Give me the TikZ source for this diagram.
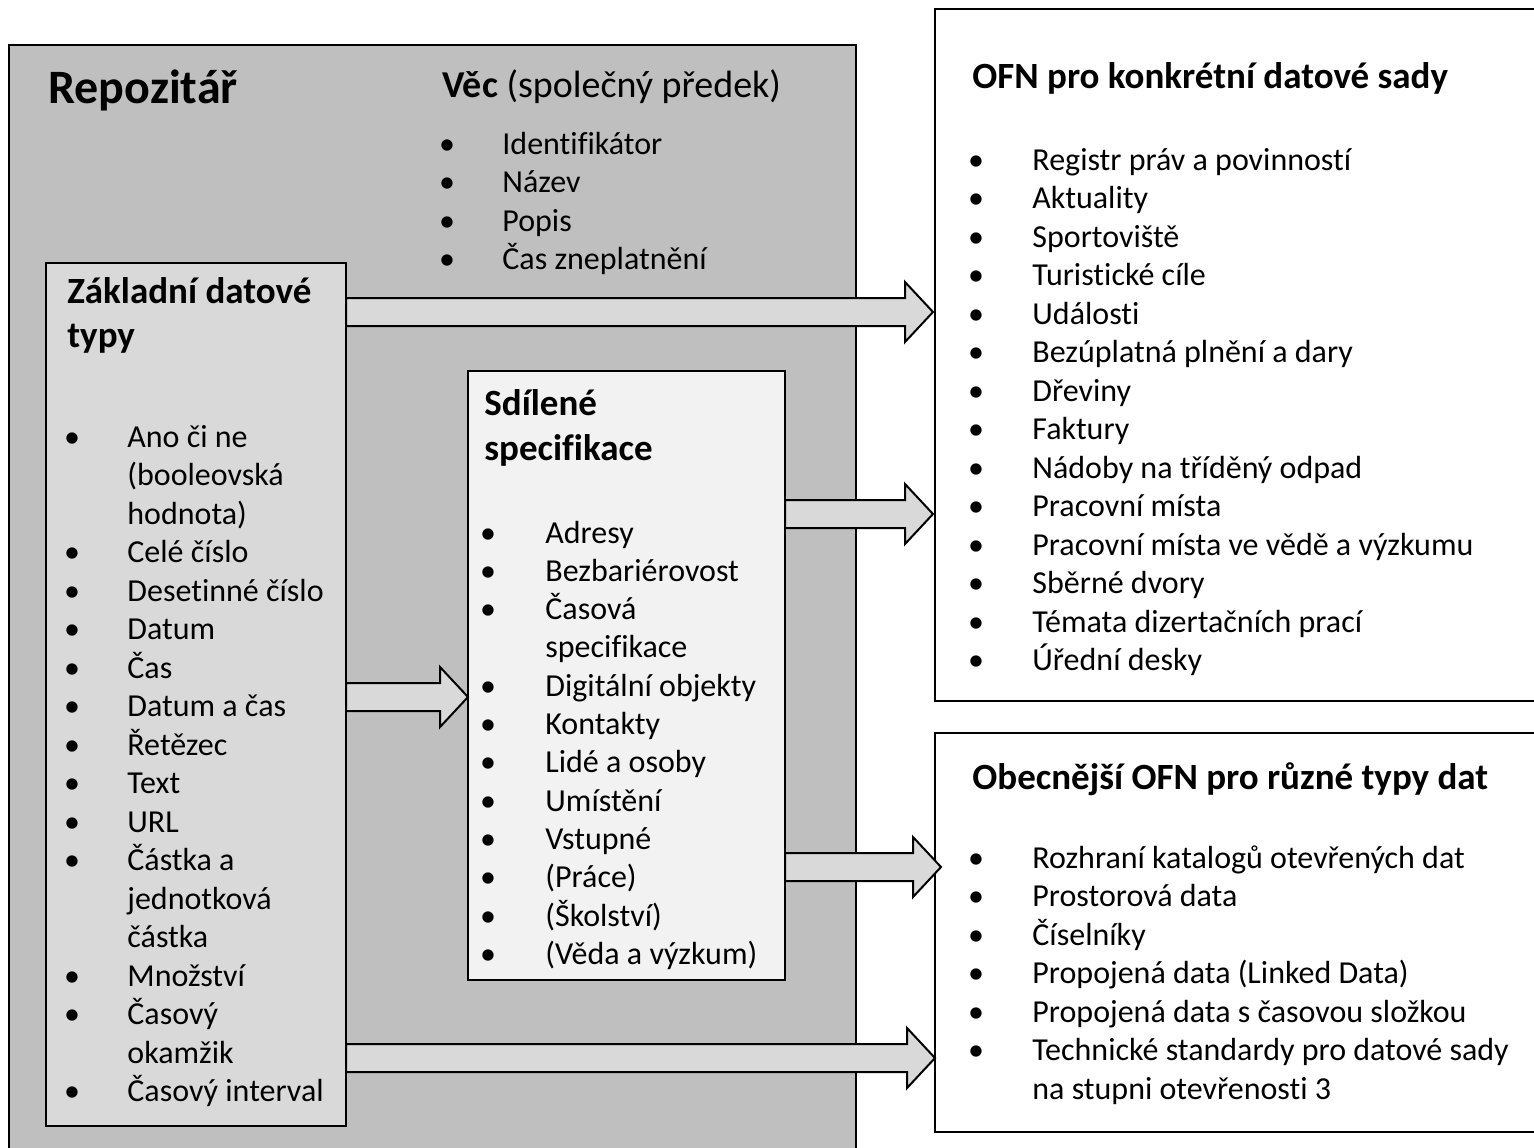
\documentclass[tikz,border=0pt]{standalone}
\usepackage{fontspec}
\setmainfont{Carlito}[Ligatures={NoCommon,NoContextual}]
\usetikzlibrary{fit,calc}
\definecolor{repogray}{HTML}{BFBFBF}
\definecolor{basegray}{HTML}{D9D9D9}
\definecolor{sharedgray}{HTML}{F2F2F2}

% block arrow from a start point to its tip, both given as coordinates
\newcommand{\blockarrow}[2]{%
  \path[draw=black,line width=1pt,fill=basegray] let \p1=#1, \p2=#2 in
    (\x1,\y1+7pt) -- (\x2-14pt,\y1+7pt) -- (\x2-14pt,\y1+15pt) -- (\x2,\y1)
    -- (\x2-14pt,\y1-15pt) -- (\x2-14pt,\y1-7pt) -- (\x1,\y1-7pt) -- cycle;}

\begin{document}
\begin{tikzpicture}[x=0.5pt,y=-0.5pt,
    box/.style={draw=black,line width=1pt,inner sep=0pt,outer sep=0pt},
    itemtext/.style={anchor=base west,inner sep=0pt,font=\fontsize{16}{19}\selectfont},
    bul/.style={anchor=base,inner sep=0pt,font=\fontsize{16}{19}\selectfont},
    heading/.style={anchor=base west,inner sep=0pt,font=\fontsize{18.5}{22}\selectfont\bfseries}]
  \useasboundingbox (0,0) rectangle (1534,1147);
  % boxes
  \node[box,fill=repogray,fit={(9,45) (856,1170)}] (repo) {};
  \node[box,fill=white,fit={(935,9) (1550,701)}] (ofn) {};
  \node[box,fill=white,fit={(935,733) (1550,1132)}] (obec) {};
  \node[box,fill=basegray,fit={(46,263) (346,1126)}] (zdt) {};
  \node[box,fill=sharedgray,fit={(468,371) (785,980)}] (sdil) {};
  % arrows
  \blockarrow{(zdt.east |- 0,312)}{($(ofn.west |- 0,312)+(-2,0)$)}
  \blockarrow{(zdt.east |- 0,697)}{(sdil.west |- 0,697)}
  \blockarrow{(sdil.east |- 0,514)}{($(ofn.west |- 0,514)+(-2,0)$)}
  \blockarrow{(sdil.east |- 0,867)}{($(obec.west |- 0,867)+(6,0)$)}
  \blockarrow{(zdt.east |- 0,1058)}{(obec.west |- 0,1058)}
  % titles
  \node[anchor=base west,inner sep=0pt,font=\fontsize{24}{29}\selectfont\bfseries]
    (repotitle) at (48,103) {Repozitář};
  \node[heading,font=\fontsize{19}{23}\selectfont\bfseries] (vectitle) at (442,97)
    {Věc \textmd{(společný předek)}};
  \node[heading] (ofntitle) at (972,88) {OFN pro konkrétní datové sady};
  \node[heading] (obectitle) at (972,789) {Obecnější OFN pro různé typy dat};
  \node[heading] (zdttitle) at (67,303) {Základní datové};
  \node[heading] (zdttitle2) at (67,347) {typy};
  \node[heading] (sdiltitle) at (484,415) {Sdílené};
  \node[heading] (sdiltitle2) at (484,460) {specifikace};
  % Vec
  \foreach \t [count=\i from 0] in {Identifikátor,Název,Popis,Čas zneplatnění}
  {
    \node[bul] (vecbul-\i) at (447,{154+38.5*\i}) {•};
    \node[itemtext] (vec-\i) at (502,{154+38.5*\i}) {\t};
  }
  % Zakladni datove typy
  \foreach \b/\t [count=\i from 0] in {1/Ano či ne,
                                       0/(booleovská,
                                       0/hodnota),
                                       1/Celé číslo,
                                       1/Desetinné číslo,
                                       1/Datum,
                                       1/Čas,
                                       1/Datum a čas,
                                       1/Řetězec,
                                       1/Text,
                                       1/URL,
                                       1/Částka a,
                                       0/jednotková,
                                       0/částka,
                                       1/Množství,
                                       1/Časový,
                                       0/okamžik,
                                       1/Časový interval}
  {
    \ifnum\b=1 \node[bul] (zdtbul-\i) at (72,{447+38.5*\i}) {•}; \fi
    \node[itemtext] (zdt-\i) at (127,{447+38.5*\i}) {\t};
  }
  % Sdilene specifikace
  \foreach \b/\t [count=\i from 0] in {1/Adresy,
                                       1/Bezbariérovost,
                                       1/Časová,
                                       0/specifikace,
                                       1/Digitální objekty,
                                       1/Kontakty,
                                       1/Lidé a osoby,
                                       1/Umístění,
                                       1/Vstupné,
                                       1/(Práce),
                                       1/(Školství),
                                       1/(Věda a výzkum)}
  {
    \ifnum\b=1 \node[bul] (sdilbul-\i) at (488,{543+38.3*\i}) {•}; \fi
    \node[itemtext] (sdil-\i) at (545,{543+38.3*\i}) {\t};
  }
  % OFN pro konkretni datove sady
  \foreach \t [count=\i from 0] in {Registr práv a povinností,
                                    Aktuality,
                                    Sportoviště,
                                    Turistické cíle,
                                    Události,
                                    Bezúplatná plnění a dary,
                                    Dřeviny,
                                    Faktury,
                                    Nádoby na tříděný odpad,
                                    Pracovní místa,
                                    Pracovní místa ve vědě a výzkumu,
                                    Sběrné dvory,
                                    Témata dizertačních prací,
                                    Úřední desky}
  {
    \node[bul] (ofnbul-\i) at (976,{170+38.5*\i}) {•};
    \node[itemtext] (ofn-\i) at (1032,{170+38.5*\i}) {\t};
  }
  % Obecnejsi OFN
  \foreach \b/\t [count=\i from 0] in {1/Rozhraní katalogů otevřených dat,
                                       1/Prostorová data,
                                       1/Číselníky,
                                       1/Propojená data (Linked Data),
                                       1/Propojená data s časovou složkou,
                                       1/Technické standardy pro datové sady,
                                       0/na stupni otevřenosti 3}
  {
    \ifnum\b=1 \node[bul] (obecbul-\i) at (976,{868+38.5*\i}) {•}; \fi
    \node[itemtext] (obec-\i) at (1032,{868+38.5*\i}) {\t};
  }
\end{tikzpicture}
\end{document}
